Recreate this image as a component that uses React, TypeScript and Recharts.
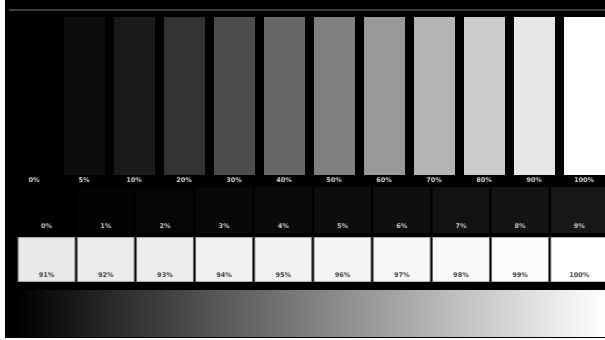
import { BarChart, Bar, XAxis, YAxis, Cell, LabelList, ReferenceLine } from "recharts";

// top strip: coarse grey steps
const coarseLabels = ["0%", "5%", "10%", "20%", "30%", "40%", "50%", "60%", "70%", "80%", "90%", "100%"];
const coarseLevels = [0, 5, 10, 20, 30, 40, 50, 60, 70, 80, 90, 100];

// near-black steps
const darkLabels = ["0%", "1%", "2%", "3%", "4%", "5%", "6%", "7%", "8%", "9%"];
const darkLevels = [0, 1, 2, 3, 4, 5, 6, 7, 8, 9];

// near-white steps
const lightLabels = ["91%", "92%", "93%", "94%", "95%", "96%", "97%", "98%", "99%", "100%"];
const lightLevels = [91, 92, 93, 94, 95, 96, 97, 98, 99, 100];

const rampData = [{ name: "ramp", value: 1 }];
const frameLevel = 1.044;

const grey = (pct: number) => {
  const v = Math.round((pct / 100) * 255);
  return `rgb(${v},${v},${v})`;
};

const coarseData = coarseLabels.map((name, i) => ({ name, value: 1, level: coarseLevels[i] }));
const darkData = darkLabels.map((name, i) => ({ name, value: 1, level: darkLevels[i] }));
const lightData = lightLabels.map((name, i) => ({ name, value: 1, level: lightLevels[i] }));

const font = "'DejaVu Sans', sans-serif";

export default function App() {
  return (
    <div
      style={{
        position: "fixed",
        left: 0,
        top: 0,
        width: 605,
        height: 340,
        overflow: "hidden",
        background: "#fff",
        fontFamily: font,
      }}
    >
      <div style={{ position: "absolute", left: 5, top: 0, width: 600, height: 338, background: "#000" }} />

      <div style={{ position: "absolute", left: 9, top: 0 }}>
        <BarChart width={600} height={200} data={coarseData} margin={{ top: 17, right: 0, bottom: 0, left: 0 }}>
          <XAxis
            dataKey="name"
            height={25}
            axisLine={false}
            tickLine={false}
            tickSize={0}
            tickMargin={2}
            interval={0}
            tick={{ fontSize: 6.5, fontWeight: 700, fill: "#c8c8c8", fontFamily: font }}
          />
          <YAxis hide domain={[0, 1]} />
          <ReferenceLine y={frameLevel} stroke="#7a7a7a" strokeWidth={1} ifOverflow="visible" />
          <Bar dataKey="value" barSize={41} isAnimationActive={false}>
            {coarseData.map((d) => (
              <Cell key={d.name} fill={grey(d.level)} />
            ))}
          </Bar>
        </BarChart>
      </div>

      <div style={{ position: "absolute", left: 17, top: 187 }}>
        <BarChart width={592} height={46} data={darkData} margin={{ top: 0, right: 0, bottom: 0, left: 0 }}>
          <XAxis dataKey="name" hide />
          <YAxis hide domain={[0, 1]} />
          <Bar dataKey="value" barSize={57} isAnimationActive={false}>
            {darkData.map((d) => (
              <Cell key={d.name} fill={grey(d.level)} />
            ))}
            <LabelList
              dataKey="name"
              position="insideBottom"
              offset={5}
              style={{ fontSize: 6.5, fontWeight: 700, fill: "#bdbdbd", fontFamily: font }}
            />
          </Bar>
        </BarChart>
      </div>

      <div style={{ position: "absolute", left: 17, top: 237 }}>
        <BarChart width={592} height={45} data={lightData} margin={{ top: 0, right: 0, bottom: 0, left: 0 }}>
          <XAxis dataKey="name" hide />
          <YAxis hide domain={[0, 1]} />
          <Bar dataKey="value" barSize={57} stroke="#6a6a6a" strokeWidth={1} isAnimationActive={false}>
            {lightData.map((d) => (
              <Cell key={d.name} fill={grey(d.level)} />
            ))}
            <LabelList
              dataKey="name"
              position="insideBottom"
              offset={5}
              style={{ fontSize: 6.5, fontWeight: 700, fill: "#4a4a4a", fontFamily: font }}
            />
          </Bar>
        </BarChart>
      </div>

      <div style={{ position: "absolute", left: 17, top: 290 }}>
        <BarChart width={588} height={47} data={rampData} barCategoryGap={0} margin={{ top: 0, right: 0, bottom: 0, left: 0 }}>
          <defs>
            <linearGradient id="rampFill" x1="0" y1="0" x2="1" y2="0">
              <stop offset="0%" stopColor="#000" />
              <stop offset="100%" stopColor="#fff" />
            </linearGradient>
          </defs>
          <XAxis dataKey="name" hide />
          <YAxis hide domain={[0, 1]} />
          <Bar dataKey="value" fill="url(#rampFill)" isAnimationActive={false} />
        </BarChart>
      </div>
    </div>
  );
}
